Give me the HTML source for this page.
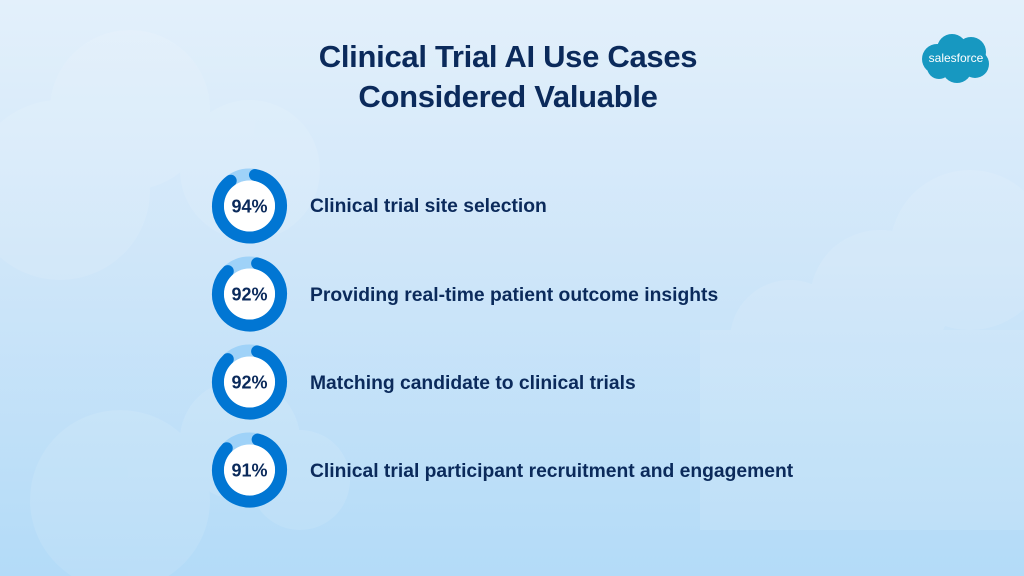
<!DOCTYPE html>
<html><head><meta charset="utf-8"><style>
html,body{margin:0;padding:0}
body{width:1024px;height:576px;overflow:hidden;position:relative;font-family:"Liberation Sans",sans-serif;
background:linear-gradient(180deg,#e3f0fb 0%,#cfe6f9 45%,#b3dbf8 100%);}
.t{position:absolute;left:0;width:1016px;text-align:center;color:#0b2a5b;font-weight:bold;font-size:31px;letter-spacing:-0.3px}
.lbl{position:absolute;left:310px;color:#0b2a5b;font-weight:bold;font-size:19.3px;line-height:22px}
.pct{font-family:"Liberation Sans",sans-serif;font-weight:bold;font-size:18px;fill:#0b2a5b}
</style></head><body>
<svg width="1024" height="576" style="position:absolute;left:0;top:0">
<g fill="#ffffff" opacity="0.1">
<circle cx="130" cy="110" r="80"/><circle cx="60" cy="190" r="90"/><circle cx="250" cy="170" r="70"/>
<circle cx="240" cy="440" r="60"/><circle cx="120" cy="500" r="90"/><circle cx="300" cy="480" r="50"/>
<circle cx="970" cy="250" r="80"/><circle cx="880" cy="300" r="70"/><circle cx="790" cy="340" r="60"/>
<rect x="700" y="330" width="330" height="200"/>
</g>
<g transform="translate(955,58)" fill="#1798c1">
<circle cx="-18" cy="1" r="15"/><circle cx="-3" cy="-9" r="15"/><circle cx="16" cy="-6" r="15"/><circle cx="20" cy="6" r="14"/><circle cx="2" cy="10" r="15"/><circle cx="-16" cy="9" r="12"/>
<text x="1" y="4" text-anchor="middle" font-family="Liberation Sans,sans-serif" font-size="12" fill="#fff">salesforce</text>
</g>
<g>
<g transform="translate(249.5,206)"><circle r="31.5" fill="none" stroke="#9fd2f8" stroke-width="12"/>
<circle r="31.5" fill="none" stroke="#0176d3" stroke-width="12" stroke-linecap="round" stroke-dasharray="172 300" transform="rotate(-80)"/>
<circle r="25.5" fill="#fff"/><text class="pct" y="6.5" text-anchor="middle">94%</text></g>
<g transform="translate(249.5,294)"><circle r="31.5" fill="none" stroke="#9fd2f8" stroke-width="12"/>
<circle r="31.5" fill="none" stroke="#0176d3" stroke-width="12" stroke-linecap="round" stroke-dasharray="166 300" transform="rotate(-76)"/>
<circle r="25.5" fill="#fff"/><text class="pct" y="6.5" text-anchor="middle">92%</text></g>
<g transform="translate(249.5,382)"><circle r="31.5" fill="none" stroke="#9fd2f8" stroke-width="12"/>
<circle r="31.5" fill="none" stroke="#0176d3" stroke-width="12" stroke-linecap="round" stroke-dasharray="166 300" transform="rotate(-76)"/>
<circle r="25.5" fill="#fff"/><text class="pct" y="6.5" text-anchor="middle">92%</text></g>
<g transform="translate(249.5,470)"><circle r="31.5" fill="none" stroke="#9fd2f8" stroke-width="12"/>
<circle r="31.5" fill="none" stroke="#0176d3" stroke-width="12" stroke-linecap="round" stroke-dasharray="164 300" transform="rotate(-75)"/>
<circle r="25.5" fill="#fff"/><text class="pct" y="6.5" text-anchor="middle">91%</text></g>
</g>
</svg>
<div class="t" style="top:39px">Clinical Trial AI Use Cases</div>
<div class="t" style="top:79px">Considered Valuable</div>
<div class="lbl" style="top:196px">Clinical trial site selection</div>
<div class="lbl" style="top:285px">Providing real-time patient outcome insights</div>
<div class="lbl" style="top:373px">Matching candidate to clinical trials</div>
<div class="lbl" style="top:461px">Clinical trial participant recruitment and engagement</div>
</body></html>
